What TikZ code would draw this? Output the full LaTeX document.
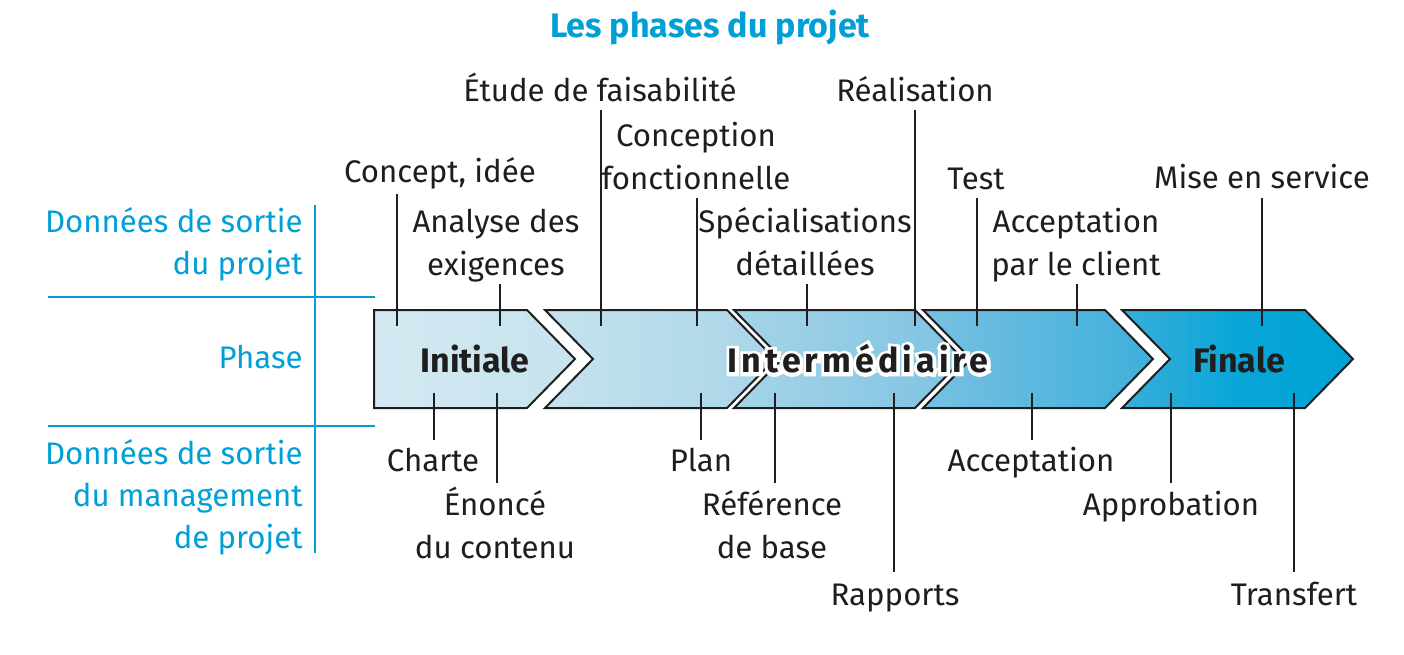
\documentclass[tikz,border=0pt]{standalone}
\usepackage{fontspec}
\setmainfont{Fira Sans}
\definecolor{cyanx}{RGB}{0,160,214}
\definecolor{ink}{RGB}{30,30,30}
\definecolor{cA}{RGB}{212,233,242}
\definecolor{cB}{RGB}{198,227,238}
\definecolor{cC}{RGB}{198,227,238}
\definecolor{cD}{RGB}{168,213,232}
\definecolor{cE}{RGB}{166,212,232}
\definecolor{cF}{RGB}{126,195,226}
\definecolor{cG}{RGB}{120,193,226}
\definecolor{cH}{RGB}{62,175,218}
\definecolor{cI}{RGB}{58,174,218}
\definecolor{cJ}{RGB}{8,166,215}
\definecolor{cK}{RGB}{0,162,213}
\tikzset{
  lbl/.style={font=\fontsize{15.6}{21.2}\selectfont, text=ink, align=center, inner sep=0pt, anchor=base},
  side/.style={font=\fontsize{15.6}{21}\selectfont, text=cyanx, align=right, inner sep=0pt, anchor=base east},
  lead/.style={draw=ink, line width=1pt},
  sepline/.style={draw=cyanx, line width=1pt},
  chev/.style={draw=ink, line width=1pt, line join=miter},
  phasetxt/.style={font=\fontsize{17}{20}\selectfont\bfseries, text=ink, inner sep=0pt},
}
\begin{document}
\begin{tikzpicture}[x=0.5pt,y=-0.5pt]
\useasboundingbox (0,0) rectangle (1404,654);
% title
\node[font=\fontsize{17}{22}\selectfont\bfseries, text=cyanx, inner sep=0pt, anchor=base] (title) at (710,37) {Les phases du projet};
% side labels and blue rules
\node[side] (s1) at (303,274) {Données de sortie\\du projet};
\node[side] (s2) at (303,368) {Phase};
\node[side] (s3) at (303,548) {Données de sortie\\du management\\de projet};
\coordinate (v1) at (315,205); \coordinate (v2) at (315,553);
\coordinate (h1a) at (48,297); \coordinate (h1b) at (375,297);
\coordinate (h2a) at (48,426); \coordinate (h2b) at (375,426);
\draw[sepline] (v1) -- (v2);
\draw[sepline] (h1a) -- (h1b);
\draw[sepline] (h2a) -- (h2b);
% chevrons
\path[chev, left color=cA, right color=cB] (374,310) -- (527,310) -- (575,359) -- (527,408) -- (374,408) -- cycle;
\path[chev, left color=cC, right color=cD] (545,310) -- (727,310) -- (775,359) -- (727,408) -- (545,408) -- (593,359) -- cycle;
\path[chev, left color=cE, right color=cF] (734,310) -- (915,310) -- (963,359) -- (915,408) -- (734,408) -- (782,359) -- cycle;
\path[chev, left color=cG, right color=cH] (923,310) -- (1105,310) -- (1153,359) -- (1105,408) -- (923,408) -- (971,359) -- cycle;
\path[chev, left color=cI, right color=cK, middle color=cJ] (1122,310) -- (1305,310) -- (1353,359) -- (1305,408) -- (1122,408) -- (1170,359) -- cycle;
% leader lines
\foreach \n/\x/\ya/\yb in {
  concept/397/194/326, analyse/500/284/326, etude/601/110/326, concep/697/198/326,
  spec/807/284/326, real/915/110/326, test/977/198/326, accc/1077/284/326, mise/1262/198/326,
  charte/434/393/440, enonce/497/393/483, plan/701/393/440, ref/775/393/483,
  rapports/894/393/572, accept/1032/393/440, approb/1171/393/483, transfert/1294/393/572}{
  \coordinate (\n-a) at (\x,\ya);
  \coordinate (\n-b) at (\x,\yb);
  \draw[lead] (\n-a) -- (\n-b);
}
% phase names
\node[phasetxt] (initiale) at (475,359) {Initiale};
\node[phasetxt, text=white] (halo) at (858,359) {\addfontfeature{LetterSpace=12,FakeBold=20}Intermédiaire};
\node[phasetxt] (inter) at (858,359) {\addfontfeature{LetterSpace=12}Intermédiaire};
\node[phasetxt] (finale) at (1239,359) {Finale};
% top labels
\node[lbl] (concept) at (440,182) {Concept, idée};
\node[lbl] (analyse) at (496,275) {Analyse des\\exigences};
\node[lbl] (etude) at (600,101) {Étude de faisabilité};
\node[lbl] (concep) at (696,189) {Conception\\fonctionnelle};
\node[lbl] (spec) at (805,275) {Spécialisations\\détaillées};
\node[lbl] (real) at (915,101) {Réalisation};
\node[lbl] (test) at (976,189) {Test};
\node[lbl] (accc) at (1076,275) {Acceptation\\par le client};
\node[lbl] (mise) at (1262,188) {Mise en service};
% bottom labels
\node[lbl] (charte) at (433,471) {Charte};
\node[lbl] (enonce) at (495,558) {Énoncé\\du contenu};
\node[lbl] (plan) at (701,471) {Plan};
\node[lbl] (ref) at (772,558) {Référence\\de base};
\node[lbl] (rapports) at (895,605) {Rapports};
\node[lbl] (accept) at (1031,471) {Acceptation};
\node[lbl] (approb) at (1171,515) {Approbation};
\node[lbl] (transfert) at (1294,605) {Transfert};
\end{tikzpicture}
\end{document}
